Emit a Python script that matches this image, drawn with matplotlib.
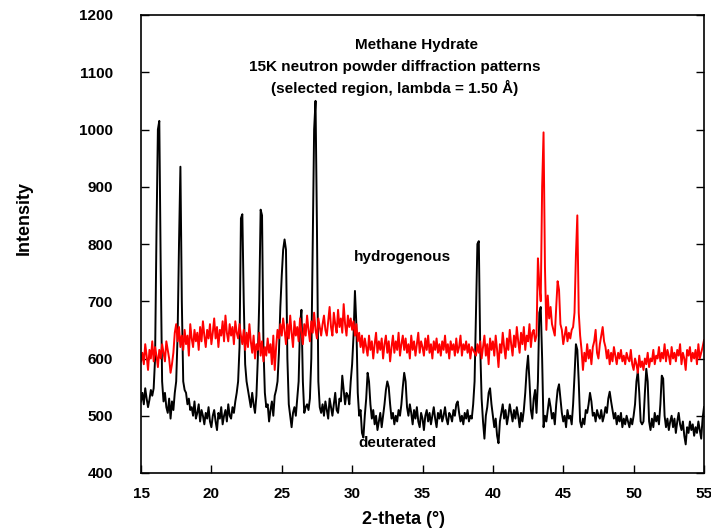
import numpy as np
import matplotlib
matplotlib.use("Agg")
import matplotlib.pyplot as plt

plt.rcParams['font.family'] = ['Liberation Sans', 'DejaVu Sans']
plt.rcParams['font.weight'] = 'bold'

# 2-theta grid, 0.1 deg steps from 15 to 55
theta_start = 15.0
theta_step = 0.1

# deuterated sample (black), one row per degree
deuterated = [
    525, 540, 520, 548, 530, 515, 528, 545, 535, 548,   # 15
    600, 820, 1000, 1015, 760, 560, 525, 540, 515, 505,  # 16
    530, 495, 525, 510, 540, 560, 640, 800, 935, 700,   # 17
    560, 545, 540, 520, 530, 510, 515, 500, 525, 495,   # 18
    505, 520, 490, 510, 500, 485, 505, 495, 515, 490,   # 19
    480, 500, 510, 490, 475, 505, 495, 515, 485, 500,   # 20
    510, 490, 520, 500, 495, 515, 505, 525, 540, 560,   # 21
    620, 845, 852, 700, 590, 560, 545, 530, 515, 540,   # 22
    520, 505, 535, 600, 700, 860, 850, 620, 540, 515,   # 23
    520, 490, 510, 525, 500, 535, 545, 560, 610, 690,   # 24
    745, 790, 808, 790, 600, 520, 500, 480, 505, 515,   # 25
    500, 530, 560, 660, 685, 560, 505, 515, 520, 510,   # 26
    530, 600, 800, 1000, 1050, 830, 560, 515, 505, 520,  # 27
    500, 525, 510, 495, 530, 515, 500, 520, 540, 510,   # 28
    505, 530, 525, 570, 545, 520, 540, 535, 520, 560,   # 29
    590, 640, 718, 660, 540, 500, 510, 470, 462, 500,   # 30
    530, 575, 560, 520, 495, 510, 485, 500, 475, 490,   # 31
    505, 480, 500, 520, 545, 560, 550, 520, 495, 505,   # 32
    485, 500, 490, 510, 500, 520, 550, 575, 560, 515,   # 33
    500, 520, 505, 485, 510, 495, 515, 490, 480, 505,   # 34
    495, 475, 500, 510, 490, 505, 485, 500, 515, 495,   # 35
    480, 505, 495, 510, 490, 500, 515, 495, 485, 505,   # 36
    500, 490, 510, 500, 520, 525, 505, 490, 500, 485,   # 37
    505, 495, 510, 490, 500, 495, 520, 560, 680, 800,   # 38
    805, 620, 530, 490, 460, 500, 515, 540, 548, 520,   # 39
    500, 480, 495, 465, 452, 490, 505, 520, 495, 510,   # 40
    485, 500, 520, 505, 490, 510, 495, 515, 500, 480,   # 41
    505, 490, 510, 540, 580, 605, 560, 510, 495, 530,   # 42
    545, 505, 560, 680, 690, 600, 480, 500, 490, 510,   # 43
    530, 515, 495, 505, 485, 520, 545, 555, 530, 505,   # 44
    490, 500, 480, 510, 495, 500, 485, 520, 570, 625,   # 45
    615, 560, 490, 480, 495, 485, 510, 505, 520, 540,   # 46
    525, 500, 505, 490, 510, 500, 495, 510, 490, 500,   # 47
    515, 505, 530, 542, 525, 510, 495, 505, 485, 500,   # 48
    490, 505, 480, 495, 485, 500, 490, 480, 495, 485,   # 49
    500, 520, 560, 578, 540, 490, 485, 490, 540, 582,   # 50
    560, 490, 475, 495, 480, 505, 490, 500, 485, 520,   # 51
    570, 565, 500, 480, 495, 475, 490, 500, 480, 495,   # 52
    470, 490, 505, 485, 475, 490, 465, 450, 480, 470,   # 53
    490, 475, 485, 465, 480, 470, 490, 475, 460, 495,   # 54
    515,                                                # 55
]

# hydrogenous sample (red)
hydrogenous = [
    595, 610, 590, 625, 605, 580, 615, 600, 630, 595,   # 15
    620, 605, 585, 615, 600, 625, 610, 595, 630, 615,   # 16
    600, 575, 590, 610, 645, 660, 630, 655, 620, 640,   # 17
    615, 650, 625, 640, 605, 660, 635, 620, 650, 630,   # 18
    645, 615, 655, 630, 665, 640, 620, 650, 635, 660,   # 19
    625, 645, 670, 635, 655, 620, 650, 640, 665, 630,   # 20
    675, 645, 630, 660, 640, 655, 625, 665, 645, 635,   # 21
    660, 640, 625, 650, 615, 645, 620, 660, 630, 610,   # 22
    640, 600, 625, 615, 645, 605, 630, 595, 620, 605,   # 23
    635, 610, 625, 590, 640, 580, 620, 650, 635, 660,   # 24
    640, 670, 650, 625, 660, 635, 675, 645, 620, 665,   # 25
    640, 655, 630, 670, 645, 625, 660, 640, 675, 650,   # 26
    630, 665, 645, 680, 650, 635, 670, 655, 640, 660,   # 27
    675, 650, 640, 665, 690, 655, 640, 680, 660, 645,   # 28
    685, 655, 670, 645, 695, 660, 640, 675, 655, 670,   # 29
    650, 665, 640, 660, 630, 645, 620, 640, 610, 635,   # 30
    620, 605, 640, 615, 630, 600, 625, 645, 610, 630,   # 31
    615, 635, 600, 625, 640, 610, 630, 595, 620, 640,   # 32
    610, 630, 615, 645, 605, 625, 640, 615, 635, 610,   # 33
    625, 600, 640, 615, 630, 605, 625, 645, 610, 630,   # 34
    620, 605, 635, 615, 640, 610, 625, 600, 630, 615,   # 35
    635, 610, 625, 605, 630, 615, 640, 610, 625, 600,   # 36
    630, 615, 625, 605, 635, 610, 620, 640, 605, 625,   # 37
    615, 630, 610, 625, 600, 620, 615, 610, 605, 625,   # 38
    610, 630, 600, 620, 640, 605, 625, 590, 635, 615,   # 39
    630, 605, 640, 615, 585, 625, 610, 645, 620, 600,   # 40
    635, 615, 650, 625, 605, 640, 620, 655, 630, 610,   # 41
    645, 625, 655, 615, 640, 630, 660, 620, 645, 650,   # 42
    630, 640, 775, 730, 700, 900, 995, 760, 650, 710,   # 43
    670, 690, 660, 650, 640, 690, 735, 720, 660, 650,   # 44
    625, 640, 655, 630, 645, 635, 650, 655, 680, 780,   # 45
    850, 680, 640, 615, 580, 610, 595, 625, 600, 615,   # 46
    590, 620, 630, 650, 610, 600, 625, 640, 655, 630,   # 47
    620, 600, 615, 590, 610, 595, 620, 605, 590, 610,   # 48
    600, 615, 595, 605, 590, 610, 600, 595, 615, 590,   # 49
    580, 600, 590, 575, 605, 585, 595, 580, 600, 590,   # 50
    610, 585, 600, 595, 615, 590, 605, 600, 620, 595,   # 51
    610, 600, 625, 595, 615, 605, 590, 620, 600, 610,   # 52
    595, 615, 605, 625, 590, 610, 600, 580, 615, 605,   # 53
    620, 595, 610, 600, 615, 590, 625, 600, 610, 620,   # 54
    632,                                                # 55
]

two_theta = np.round(theta_start + theta_step * np.arange(len(deuterated)), 1)

title_lines = ["Methane Hydrate",
               "15K neutron powder diffraction patterns",
               "(selected region, lambda = 1.50 \u00c5)"]

fig = plt.figure(figsize=(7.11, 5.30), dpi=100)
ax = fig.add_axes([141/711, 1 - 473/530, (704 - 141)/711, (473 - 15)/530])

ax.plot(two_theta, deuterated, color='black', lw=1.4)
ax.plot(two_theta, hydrogenous, color='#ff0000', lw=1.4)

ax.set_xlim(15, 55)
ax.set_ylim(400, 1200)
ax.set_xticks(np.arange(15, 56, 5))
ax.set_yticks(np.arange(400, 1201, 100))
ax.tick_params(axis='both', direction='in', length=6, width=1, labelsize=11)
ax.tick_params(axis='y', right=True, pad=20)
ax.tick_params(axis='x', pad=10)
for lab in ax.get_xticklabels() + ax.get_yticklabels():
    lab.set_fontweight('bold')
for s in ax.spines.values():
    s.set_linewidth(1.2)

# title block and curve labels inside the frame
ax.text(34.6, 1148, title_lines[0], ha='center', va='center', fontsize=11, fontweight='bold')
ax.text(33.05, 1110, title_lines[1], ha='center', va='center', fontsize=11, fontweight='bold')
ax.text(33.05, 1072, title_lines[2], ha='center', va='center', fontsize=11, fontweight='bold')
ax.text(33.57, 778, 'hydrogenous', ha='center', va='center', fontsize=11, fontweight='bold')
ax.text(33.22, 452, 'deuterated', ha='center', va='center', fontsize=11, fontweight='bold')

fig.text(403.5/711, 1 - 520/530, '2-theta (\u00b0)', ha='center', va='center',
         fontsize=13, fontweight='bold')
fig.text(24/711, 1 - 218/530, 'Intensity', rotation=90, ha='center', va='center',
         fontsize=13, fontweight='bold')

fig.savefig('out.png', dpi=100)
